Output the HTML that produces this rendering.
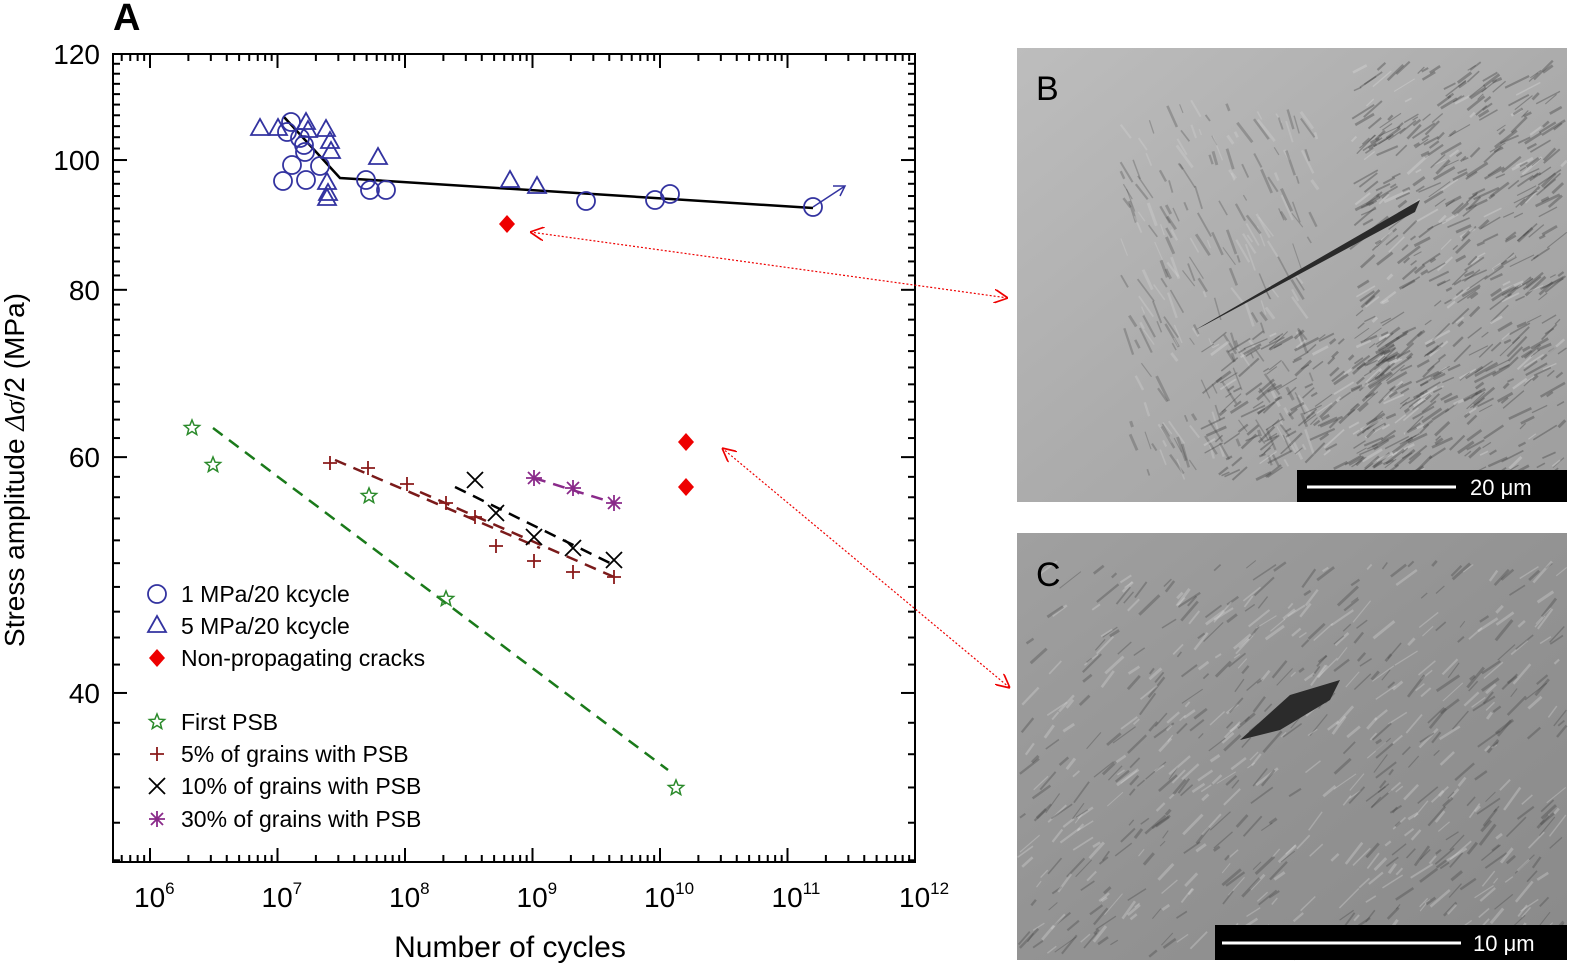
<!DOCTYPE html>
<html><head><meta charset="utf-8"><style>
html,body{margin:0;padding:0;background:#fff;}
body{width:1589px;height:980px;overflow:hidden;position:relative;font-family:"Liberation Sans",sans-serif;}
</style></head><body>
<svg id="s" width="1589" height="980" xmlns="http://www.w3.org/2000/svg" style="position:absolute;left:0;top:0">
<defs>
<linearGradient id="gB" x1="0" y1="0" x2="1" y2="1"><stop offset="0" stop-color="#bdbdbd"/><stop offset="0.5" stop-color="#acacac"/><stop offset="1" stop-color="#9e9e9e"/></linearGradient>
<linearGradient id="gC" x1="0" y1="0" x2="1" y2="1"><stop offset="0" stop-color="#a0a0a0"/><stop offset="0.5" stop-color="#939393"/><stop offset="1" stop-color="#8a8a8a"/></linearGradient>
<marker id="ah" viewBox="0 0 10 10" refX="10" refY="5" markerWidth="14" markerHeight="14" orient="auto-start-reverse" markerUnits="userSpaceOnUse"><path d="M0,0 L10,5 L0,10" fill="none" stroke="#e00" stroke-width="1.2"/></marker>
</defs>
<rect x="1017" y="48" width="550" height="454" fill="url(#gB)"/>
<g id="texB"></g>
<rect x="1017" y="533" width="550" height="427" fill="url(#gC)"/>
<g id="texC"></g>
<path d="M1195,330 L1420,200 L1415,212 L1205,325 Z" fill="#2a2a2a"/>
<path d="M1240,740 L1290,695 L1340,680 L1330,700 L1280,730 Z" fill="#2b2b2b"/>
<rect x="1297" y="470" width="270" height="32" fill="#000"/>
<line x1="1307" y1="487" x2="1456" y2="487" stroke="#fff" stroke-width="3"/>
<text x="1470" y="495" font-size="22" fill="#fff">20 μm</text>
<rect x="1215" y="925" width="352" height="35" fill="#000"/>
<line x1="1222" y1="943" x2="1461" y2="943" stroke="#fff" stroke-width="3"/>
<text x="1473" y="951" font-size="22" fill="#fff">10 μm</text>
<text x="1036" y="100" font-size="34" fill="#000">B</text>
<text x="1036" y="586" font-size="34" fill="#000">C</text>
<text x="113" y="30" font-size="38" font-weight="bold">A</text>
<rect x="113" y="54" width="802" height="808" fill="none" stroke="#000" stroke-width="2"/>
<g id="ticks" stroke="#000" stroke-width="2"></g>
<g id="lab" font-size="28" fill="#000"></g>
<text transform="translate(24,470) rotate(-90)" text-anchor="middle" font-size="28">Stress amplitude <tspan font-family="Liberation Serif" font-style="italic">Δσ</tspan>/2 (MPa)</text>
<text x="510" y="957" text-anchor="middle" font-size="30">Number of cycles</text>
<polyline points="284,117 340,178 813,208" fill="none" stroke="#000" stroke-width="2.5"/>
<line x1="813" y1="207" x2="845" y2="186" stroke="#3333a0" stroke-width="1.5"/>
<path d="M833,186 L845,186 L840,196" fill="none" stroke="#3333a0" stroke-width="1.5"/>
<line x1="213" y1="428" x2="668" y2="770" stroke="#1a7a1a" stroke-width="2.5" stroke-dasharray="12,8"/>
<line x1="335" y1="460" x2="540" y2="548" stroke="#7a1a1a" stroke-width="2.5" stroke-dasharray="12,8"/>
<line x1="420" y1="492" x2="614" y2="577" stroke="#7a1a1a" stroke-width="2.5" stroke-dasharray="12,8"/>
<line x1="455" y1="487" x2="614" y2="565" stroke="#000" stroke-width="2.5" stroke-dasharray="12,8"/>
<line x1="534" y1="478" x2="614" y2="503" stroke="#8a2a8a" stroke-width="2.5" stroke-dasharray="12,8"/>
<line x1="530" y1="232" x2="1008" y2="298" stroke="#e00" stroke-width="1.2" stroke-dasharray="2,2" marker-start="url(#ah)" marker-end="url(#ah)"/>
<line x1="722" y1="448" x2="1010" y2="688" stroke="#e00" stroke-width="1.2" stroke-dasharray="2,2" marker-start="url(#ah)" marker-end="url(#ah)"/>
<g id="mk"></g>
<g id="leg" font-size="23"></g>
</svg>
<script>
var NS="http://www.w3.org/2000/svg";
function el(p,t,a,txt){var e=document.createElementNS(NS,t);for(var k in a)e.setAttribute(k,a[k]);if(txt!=null)e.textContent=txt;document.getElementById(p).appendChild(e);return e;}
var L=113,R=915,T=54,B=862;
function X(e){return 150+(e-6)*127.5;}
function Y(v){return 54+(Math.log(120)-Math.log(v))*581.6;}
for(var d=5;d<=12;d++){for(var m=1;m<10;m++){var x=X(d+Math.log10(m));if(x<L||x>R)continue;var len=m==1?14:7;
el("ticks","line",{x1:x,y1:B,x2:x,y2:B-len});el("ticks","line",{x1:x,y1:T,x2:x,y2:T+len});}
if(d>=6){var t=el("lab","text",{x:X(d)-16,y:907});t.textContent="10";var s=document.createElementNS(NS,"tspan");s.setAttribute("font-size","17");s.setAttribute("dy","-13");s.textContent=d;t.appendChild(s);}}
for(var v=30;v<=120;v+=2){var y=Y(v);var maj=(v%20==0);var len=maj?14:7;
el("ticks","line",{x1:L,y1:y,x2:L+len,y2:y});el("ticks","line",{x1:R,y1:y,x2:R-len,y2:y});
if(maj)el("lab","text",{x:100,y:y+10,"text-anchor":"end"},v);}
var blue="#3333a0";
function circ(x,y){el("mk","circle",{cx:x,cy:y,r:9,fill:"none",stroke:blue,"stroke-width":1.8});}
function tri(x,y){el("mk","path",{d:"M"+x+","+(y-10)+" L"+(x+9)+","+(y+6)+" L"+(x-9)+","+(y+6)+"Z",fill:"none",stroke:blue,"stroke-width":1.8});}
function dia(x,y){el("mk","path",{d:"M"+x+","+(y-9)+" L"+(x+8)+","+y+" L"+x+","+(y+9)+" L"+(x-8)+","+y+"Z",fill:"#e00"});}
function star(x,y){var p="";for(var i=0;i<10;i++){var r=i%2?3.5:8,a=-Math.PI/2+i*Math.PI/5;p+=(i?"L":"M")+(x+r*Math.cos(a)).toFixed(1)+","+(y+r*Math.sin(a)).toFixed(1);}el("mk","path",{d:p+"Z",fill:"none",stroke:"#2a8a2a","stroke-width":1.5});}
function plus(x,y){el("mk","path",{d:"M"+(x-7)+","+y+"H"+(x+7)+"M"+x+","+(y-7)+"V"+(y+7),stroke:"#8a1a1a","stroke-width":1.8});}
function cross(x,y){el("mk","path",{d:"M"+(x-8)+","+(y-8)+"L"+(x+8)+","+(y+8)+"M"+(x+8)+","+(y-8)+"L"+(x-8)+","+(y+8),stroke:"#000","stroke-width":1.8});}
function ast(x,y){el("mk","path",{d:"M"+(x-8)+","+y+"H"+(x+8)+"M"+x+","+(y-8)+"V"+(y+8)+"M"+(x-6)+","+(y-6)+"L"+(x+6)+","+(y+6)+"M"+(x+6)+","+(y-6)+"L"+(x-6)+","+(y+6),stroke:"#8a2a8a","stroke-width":1.8});}
[[291,122],[287,132],[300,138],[304,145],[305,152],[292,165],[283,181],[306,180],[320,166],[366,180],[370,190],[386,190],[586,201],[655,200],[670,194],[813,207]].forEach(function(p){circ(p[0],p[1]);});
[[260,129],[278,129],[306,123],[308,131],[326,130],[330,142],[331,152],[327,183],[328,194],[327,199],[378,158],[510,181],[537,187]].forEach(function(p){tri(p[0],p[1]);});
[[507,224],[686,442],[686,487]].forEach(function(p){dia(p[0],p[1]);});
[[192,428],[213,465],[369,496],[446,599],[676,788]].forEach(function(p){star(p[0],p[1]);});
[[330,463],[368,468],[407,484],[446,503],[475,517],[496,546],[534,561],[573,572],[614,577]].forEach(function(p){plus(p[0],p[1]);});
[[475,480],[496,513],[534,537],[573,548],[614,560]].forEach(function(p){cross(p[0],p[1]);});
[[534,478],[573,488],[614,503]].forEach(function(p){ast(p[0],p[1]);});
var leg=[[594,circ,"1 MPa/20 kcycle"],[626,tri,"5 MPa/20 kcycle"],[658,dia,"Non-propagating cracks"],[722,star,"First PSB"],[754,plus,"5% of grains with PSB"],[786,cross,"10% of grains with PSB"],[819,ast,"30% of grains with PSB"]];
leg.forEach(function(r){r[1](157,r[0]);el("leg","text",{x:181,y:r[0]+8},r[2]);});
var seed=7;function rnd(){seed=(seed*9301+49297)%233280;return seed/233280;}
function tex(g,x0,y0,w,h,n,ang,dark,op){for(var i=0;i<n;i++){var x=x0+rnd()*w,y=y0+rnd()*h,l=6+rnd()*22;var a=ang+(rnd()-0.5)*0.4;
var x2=x+l*Math.cos(a),y2=y+l*Math.sin(a);if(x2<x0||x2>x0+w||y2<y0||y2>y0+h)continue;
el(g,"line",{x1:x.toFixed(1),y1:y.toFixed(1),x2:x2.toFixed(1),y2:y2.toFixed(1),stroke:rnd()<dark?"#444":"#d8d8d8","stroke-width":(1+rnd()*2).toFixed(1),opacity:op});}}
tex("texB",1350,60,217,420,600,-0.6,0.85,0.4);
tex("texB",1120,100,200,380,250,1.1,0.6,0.3);
tex("texB",1200,330,250,150,250,-0.6,0.85,0.4);
tex("texC",1017,560,550,400,700,-0.75,0.5,0.35);
</script>
</body></html>
